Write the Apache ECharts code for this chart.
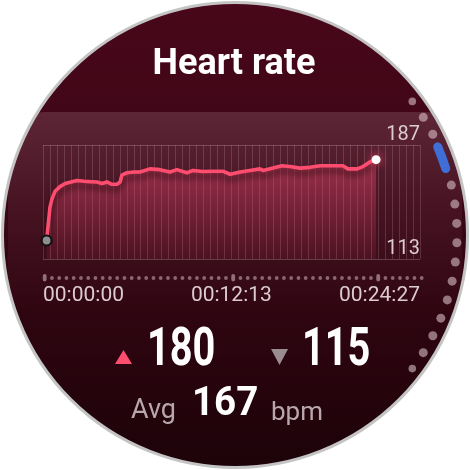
<!DOCTYPE html>
<html>
<head>
<meta charset="utf-8">
<script src="https://cdn.jsdelivr.net/npm/echarts@6/dist/echarts.min.js"></script>
<style>html,body{margin:0;padding:0;background:#fff;}#c{width:470px;height:470px;}</style>
</head>
<body>
<div id="c"></div>
<script>
// ---- data ----
const timeSec = [14,27,35,47,66,86,109,132,160,183,210,230,249,268,288,300,307,327,354,377,416,455,494,521,560,584,623,661,700,728,767,805,844,856,895,930,961,1000,1039,1078,1117,1167,1187,1222,1245,1272,1296];
const heartRate = [125,146.5,152,157,160,162,163,164,163.5,163.2,163,162,163,161.5,161.5,163,167.5,169,169.5,169.5,171.5,171,169.5,171,169,170.5,169.8,170,170,168,169.5,170.5,171.5,170.5,172,173.5,173,172,172.5,173.5,173.5,173.5,171.5,171.5,173,176,177.5];
const xTickValues = [0, 733, 1467];
const xTickLabels = ['00:00:00', '00:12:13', '00:24:27'];
const yTickValues = [113, 187];
const title = 'Heart rate';
const maxHR = '180', minHR = '115', avgHR = '167';

const chart = echarts.init(document.getElementById('c'), null, {renderer: 'canvas'});
const C = 235, CY = 235;

const seriesData = timeSec.map((t, i) => {
  const d = {value: [t, heartRate[i]]};
  if (i === 0) {
    d.symbol = 'circle'; d.symbolSize = 10;
    d.itemStyle = {color: '#8e8e8e', borderColor: '#111', borderWidth: 2.2, shadowBlur: 0};
  } else if (i === timeSec.length - 1) {
    d.symbol = 'circle'; d.symbolSize = 9;
    d.itemStyle = {color: '#fff', borderWidth: 0, shadowBlur: 10, shadowColor: '#ff4d70'};
  }
  return d;
});

// decorative elements
const g = [];
g.push({type: 'circle', z: -50, shape: {cx: C, cy: CY, r: 232},
  style: {fill: new echarts.graphic.LinearGradient(0, 0, 0, 1, [
    {offset: 0, color: '#48071a'}, {offset: 0.45, color: '#3a0615'}, {offset: 1, color: '#1d0309'}])}});
g.push({type: 'rect', z: -40, shape: {x: 8, y: 112, width: 454, height: 205, r: 36},
  style: {fill: new echarts.graphic.LinearGradient(0, 0, 0, 1, [
    {offset: 0, color: 'rgba(255,215,228,0.15)'}, {offset: 0.5, color: 'rgba(255,215,228,0.06)'}, {offset: 1, color: 'rgba(255,215,228,0)'}])}});
g.push({type: 'circle', z: 50, shape: {cx: C, cy: CY, r: 256}, style: {fill: null, stroke: '#fff', lineWidth: 44}});
g.push({type: 'circle', z: 51, shape: {cx: C, cy: CY, r: 232.5}, style: {fill: null, stroke: '#c4c4c4', lineWidth: 3}});
// right edge scroll dots
const angs = [-37, -32, -27, -13, -8, -3, 2, 7, 12, 17, 22, 27, 32, 37];
angs.forEach((a, i) => {
  const rad = a * Math.PI / 180;
  const rr = (i === 0 || i === angs.length - 1) ? 3.8 : 4.5;
  g.push({type: 'circle', z: 20, shape: {cx: C + 222 * Math.cos(rad), cy: CY + 222 * Math.sin(rad), r: rr},
    style: {fill: 'rgba(215,190,198,0.6)'}});
});
g.push({type: 'arc', z: 20, shape: {cx: C, cy: CY, r: 221, startAngle: -23.5 * Math.PI / 180, endAngle: -17.5 * Math.PI / 180},
  style: {stroke: '#3f6fd6', lineWidth: 9, lineCap: 'round', fill: null}});
// dotted row under the plot
for (let i = 0; i <= 52; i++) {
  const x = 44.7 + i * 7.25;
  if (i === 0 || i === 26 || i === 46) {
    g.push({type: 'rect', z: 20, shape: {x: x - 1.9, y: 274, width: 3.8, height: 7.5, r: 1.9}, style: {fill: 'rgba(205,180,188,0.6)'}});
  } else {
    g.push({type: 'circle', z: 20, shape: {cx: x, cy: 278, r: 1.9}, style: {fill: 'rgba(205,180,188,0.55)'}});
  }
}
// texts
function txt(text, x, y, font, fill, align, sx) {
  return {type: 'text', z: 30, x: x, y: y, scaleX: sx || 1,
    style: {text: text, font: font, fill: fill, textAlign: align, textVerticalAlign: 'middle', align: align, verticalAlign: 'middle'}};
}
g.push(txt(title, 234, 65, 'bold 36px Roboto', '#ffffff', 'center'));
g.push({type: 'polygon', z: 30, shape: {points: [[115, 364], [123.5, 350], [132, 364]]}, style: {fill: '#ff4d70'}});
g.push({type: 'polygon', z: 30, shape: {points: [[271, 349], [288, 349], [279.5, 365]]}, style: {fill: '#9a8c91'}});
g.push(txt(maxHR, 147, 352, 'bold 53px Roboto', '#ffffff', 'left', 0.75));
g.push(txt(minHR, 302, 352, 'bold 53px Roboto', '#ffffff', 'left', 0.75));
g.push(txt('Avg', 131, 411, '27px Roboto', '#b8a8ad', 'left'));
g.push(txt(avgHR, 192, 405, 'bold 41px Roboto', '#ffffff', 'left', 0.94));
g.push(txt('bpm', 271, 413, '26px Roboto', '#b8a8ad', 'left'));

const option = {
  backgroundColor: '#ffffff',
  animation: false,
  grid: {left: 43, top: 145, width: 377, height: 114, containLabel: false},
  xAxis: {
    type: 'value', min: 0, max: 1467, interval: 1467 / 54,
    axisLine: {show: false}, axisTick: {show: false},
    splitLine: {show: true, lineStyle: {color: 'rgba(255,225,235,0.16)', width: 1}},
    axisLabel: {
      customValues: xTickValues, margin: 26, alignMinLabel: 'left', alignMaxLabel: 'right',
      color: '#dccbd0', fontSize: 21, fontFamily: 'Roboto',
      formatter: v => { const k = xTickValues.indexOf(Math.round(v)); return k >= 0 ? xTickLabels[k] : ''; }
    }
  },
  yAxis: {
    type: 'value', min: 113, max: 187, position: 'right',
    axisLine: {show: false},
    axisTick: {show: false, customValues: yTickValues},
    splitLine: {show: true, lineStyle: {color: 'rgba(255,225,235,0.22)', width: 1}},
    axisLabel: {customValues: yTickValues, inside: true, margin: 0, verticalAlign: 'bottom',
      color: '#dccbd0', fontSize: 20, fontFamily: 'Roboto'}
  },
  series: [{
    type: 'line', data: seriesData, symbol: 'none', showSymbol: true, z: 3,
    lineStyle: {color: '#ff4d70', width: 3.6, cap: 'round', join: 'round',
      shadowColor: 'rgba(20,0,5,0.65)', shadowBlur: 6, shadowOffsetY: 5},
    areaStyle: {origin: 'start', color: new echarts.graphic.LinearGradient(0, 0, 0, 1, [
      {offset: 0, color: 'rgba(255,75,115,0.6)'}, {offset: 1, color: 'rgba(255,75,115,0.12)'}])}
  }],
  graphic: {elements: g}
};
chart.setOption(option);
</script>
</body>
</html>
